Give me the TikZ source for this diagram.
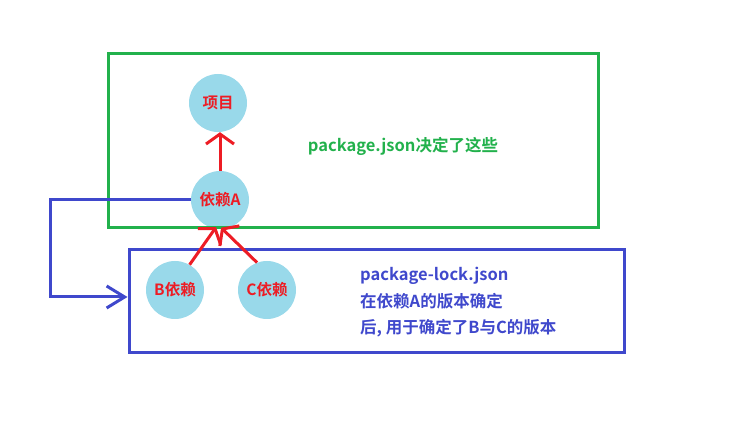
\documentclass[tikz,border=0pt]{standalone}
\usepackage{fontspec}
\setmainfont{Noto Sans CJK SC}[BoldFont={Noto Sans CJK SC Bold}]
\usetikzlibrary{arrows.meta}

\definecolor{paintred}{RGB}{237,28,36}
\definecolor{paintgreen}{RGB}{34,177,76}
\definecolor{paintblue}{RGB}{63,72,204}
\definecolor{bubble}{RGB}{153,217,234}

\tikzset{
    dep/.style={circle, fill=bubble, minimum size=58pt, inner sep=0pt,
        text=paintred, font=\fontsize{15.5pt}{15.5pt}\selectfont\bfseries},
    redarrow/.style={draw=paintred, line width=3pt,
        -{Straight Barb[length=10pt, width=28pt, line width=3pt]}},
    bluearrow/.style={draw=paintblue, line width=3pt,
        -{Straight Barb[length=18pt, width=22pt, line width=3pt]}}
}

\begin{document}
\begin{tikzpicture}[x=1pt, y=-1pt]
    \useasboundingbox (0,0) rectangle (737,446);

    % Dependencies
    \node[dep] (proj) at (218,103) {项目};
    \node[dep] (depA) at (220,200) {依赖A};
    \node[dep] (depB) at (175,290) {B依赖};
    \node[dep] (depC) at (267,290) {C依赖};

    % Boxes
    \node[draw=paintgreen, line width=3pt, minimum width=490pt, minimum height=174pt,
        inner sep=0pt] (jsonbox) at (353,141) {};
    \node[draw=paintblue, line width=3pt, minimum width=495pt, minimum height=103pt,
        inner sep=0pt] (lockbox) at (376.5,301.5) {};

    % Labels
    \node[text=paintgreen, font=\fontsize{16.5pt}{16.5pt}\selectfont\bfseries]
        (jsontext) at (403,146) {package.json决定了这些};
    \node[text=paintblue, anchor=north west, align=left, inner sep=0pt,
        font=\fontsize{16.5pt}{26.5pt}\selectfont\bfseries]
        (locktext) at (360,267) {package-lock.json\\在依赖A的版本确定\\后, 用于确定了B与C的版本};

    % Arrows
    \draw[redarrow] (depA) -- (depA |- proj.south);
    \draw[redarrow, shorten >=-2pt] (depB.60) -- (depA.260);
    \draw[redarrow, shorten >=-2pt] (depC.110) -- (depA.275);
    \coordinate (turn) at (50,297);
    \draw[bluearrow] (depA.west) -| (turn) -- (turn -| lockbox.west);
\end{tikzpicture}
\end{document}
